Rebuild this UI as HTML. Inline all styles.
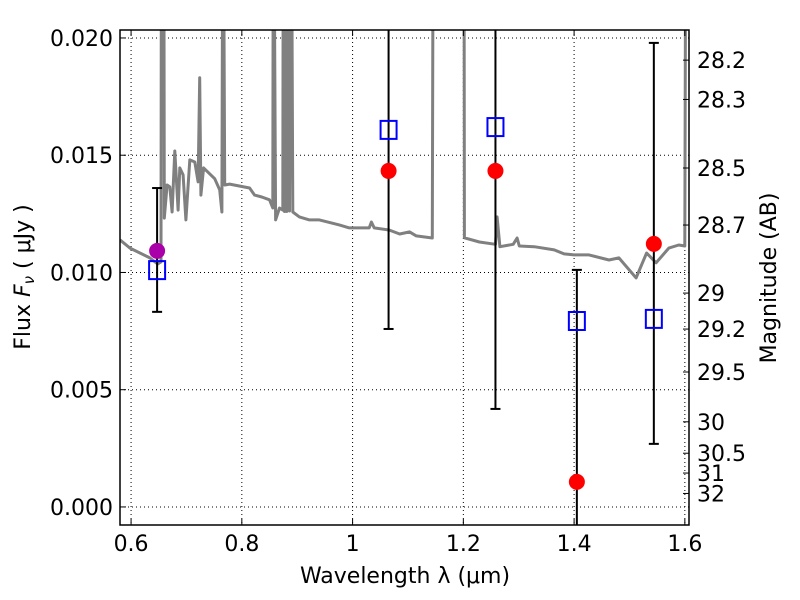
<!DOCTYPE html>
<html><head><meta charset="utf-8"><style>
html,body{margin:0;background:#fff;width:800px;height:600px;overflow:hidden;}
svg{display:block;}
svg text{font-family:"DejaVu Sans","Liberation Sans",sans-serif;}
</style></head><body>
<svg id="chart" width="800" height="600" xmlns="http://www.w3.org/2000/svg">
<rect width="800" height="600" fill="#fff"/>
<g id="grid"></g><g id="spec"></g><g id="marks"></g><g id="axes"></g>
<text x="405" y="583" font-size="22" text-anchor="middle">Wavelength  λ (μm)</text>
<text transform="translate(30,277) rotate(-90)" font-size="22" text-anchor="middle">Flux  <tspan font-style="italic">F</tspan><tspan font-size="15" font-style="italic" dy="4">ν</tspan><tspan dy="-4">  ( μJy )</tspan></text>
<text transform="translate(776,278) rotate(-90)" font-size="22" text-anchor="middle">Magnitude (AB)</text>
</svg>
<script>
const specWave=[0.58,0.598,0.634,0.648,0.654,0.655,0.659,0.660,0.665,0.670,0.674,0.679,0.685,0.688,0.694,0.699,0.706,0.715,0.721,0.724,0.726,0.731,0.751,0.760,0.764,0.766,0.769,0.778,0.814,0.823,0.836,0.850,0.856,0.857,0.861,0.868,0.874,0.875,0.877,0.879,0.881,0.883,0.886,0.889,0.892,0.904,0.922,0.940,0.976,0.994,1.030,1.034,1.039,1.066,1.085,1.103,1.115,1.144,1.146,1.201,1.202,1.229,1.258,1.261,1.266,1.290,1.297,1.301,1.328,1.364,1.382,1.400,1.427,1.463,1.481,1.512,1.531,1.548,1.571,1.589,1.600,1.602];
const specFlux=[0.01139,0.01104,0.01062,0.01036,0.01045,0.03,0.03,0.01232,0.01373,0.01365,0.01258,0.01518,0.01266,0.01446,0.01416,0.01224,0.0148,0.01471,0.01386,0.0183,0.0133,0.01446,0.0140,0.01352,0.01258,0.03,0.01373,0.01377,0.0136,0.0133,0.01322,0.0131,0.01275,0.03,0.01224,0.01275,0.01266,0.03,0.0126,0.03,0.0126,0.03,0.01262,0.03,0.01258,0.01237,0.01224,0.01224,0.01203,0.0119,0.0119,0.01215,0.0119,0.01181,0.01164,0.01173,0.01156,0.01147,0.03,0.03,0.01148,0.0113,0.0112,0.01237,0.0111,0.0112,0.01147,0.01113,0.0111,0.01096,0.01079,0.01075,0.01075,0.01053,0.01062,0.00977,0.01083,0.01041,0.01104,0.01117,0.01113,0.03];
const obsWave=[0.647,1.065,1.258,1.405,1.544];
const obsFlux=[0.01092,0.01433,0.01433,0.00107,0.01122];
const errHi=[0.0136,0.03,0.03,0.01011,0.01979];
const errLo=[0.00832,0.00759,0.00418,-0.01,0.00269];
const modelFlux=[0.0101,0.01608,0.0162,0.00793,0.00802];
const xTicks=[0.6,0.8,1.0,1.2,1.4,1.6];
const xTickLabels=["0.6","0.8","1","1.2","1.4","1.6"];
const yTicks=[0,0.005,0.01,0.015,0.02];
const yTickLabels=["0.000","0.005","0.010","0.015","0.020"];
const magTicks=[28.2,28.3,28.5,28.7,29,29.2,29.5,30,30.5,31,32];
const magLabels=["28.2","28.3","28.5","28.7","29","29.2","29.5","30","30.5","31","32"];
const L=120,R=689,T=30,B=525,XMIN=0.58,XMAX=1.6075,YMIN=-0.00077,YMAX=0.02034;
const sx=v=>L+(v-XMIN)/(XMAX-XMIN)*(R-L);
const sy=v=>B-(v-YMIN)/(YMAX-YMIN)*(B-T);
const NS="http://www.w3.org/2000/svg";
function mk(tag,parent,attrs){const e=document.createElementNS(NS,tag);for(const k in attrs)e.setAttribute(k,attrs[k]);document.getElementById(parent).appendChild(e);return e;}
const defs=document.createElementNS(NS,'defs');defs.innerHTML='<clipPath id="pc"><rect x="120" y="30" width="569" height="495"/></clipPath>';document.getElementById('chart').prepend(defs);
document.getElementById('spec').setAttribute('clip-path','url(#pc)');
document.getElementById('marks').setAttribute('clip-path','url(#pc)');
xTicks.forEach((t,i)=>{
 let g=mk('line','grid',{x1:sx(t),x2:sx(t),y1:T,y2:B,stroke:'#000','stroke-width':1,'stroke-dasharray':'1,3'});
 
 mk('line','axes',{x1:sx(t),x2:sx(t),y1:B,y2:B-6,stroke:'#000'});
 mk('line','axes',{x1:sx(t),x2:sx(t),y1:T,y2:T+6,stroke:'#000'});
 let tx=mk('text','axes',{x:sx(t),y:B+26,'font-size':22,'text-anchor':'middle'});tx.textContent=xTickLabels[i];
 
});
yTicks.forEach((t,i)=>{
 let g=mk('line','grid',{x1:L,x2:R,y1:sy(t),y2:sy(t),stroke:'#000','stroke-width':1,'stroke-dasharray':'1,3'});
 
 mk('line','axes',{x1:L,x2:L+6,y1:sy(t),y2:sy(t),stroke:'#000'});
 let tx=mk('text','axes',{x:L-7,y:sy(t)+8,'font-size':22,'text-anchor':'end'});tx.textContent=yTickLabels[i];
 
});
magTicks.forEach((m,i)=>{
 const f=Math.pow(10,(23.9-m)/2.5);const y=sy(f);
 mk('line','axes',{x1:R-6,x2:R,y1:y,y2:y,stroke:'#000'});
 let tx=mk('text','axes',{x:R+8,y:y+8,'font-size':22});tx.textContent=magLabels[i];
 
});
let d=specWave.map((w,i)=>(i?'L':'M')+sx(w).toFixed(1)+','+sy(specFlux[i]).toFixed(1)).join('');
let sp=mk('path','spec',{d:d,fill:'none',stroke:'#808080','stroke-width':3,'stroke-linejoin':'round'});

obsWave.forEach((w,i)=>{
 const x=sx(w);
 let e=mk('line','marks',{x1:x,x2:x,y1:sy(errHi[i]),y2:sy(errLo[i]),stroke:'#000','stroke-width':2});
 
 mk('line','marks',{x1:x-5,x2:x+5,y1:sy(errHi[i]),y2:sy(errHi[i]),stroke:'#000','stroke-width':2});
 mk('line','marks',{x1:x-5,x2:x+5,y1:sy(errLo[i]),y2:sy(errLo[i]),stroke:'#000','stroke-width':2});
 let s=mk('rect','marks',{x:x-8,y:sy(modelFlux[i])-9,width:16,height:18,fill:'none',stroke:'#0000ff','stroke-width':2});
 
 let c=mk('circle','marks',{cx:x,cy:sy(obsFlux[i]),r:8,fill:i===0?'#aa00aa':'#ff0000'});
 
});
let fr=mk('rect','axes',{x:L,y:T,width:R-L,height:B-T,fill:'none',stroke:'#000','stroke-width':1.5});

</script>
</body></html>
